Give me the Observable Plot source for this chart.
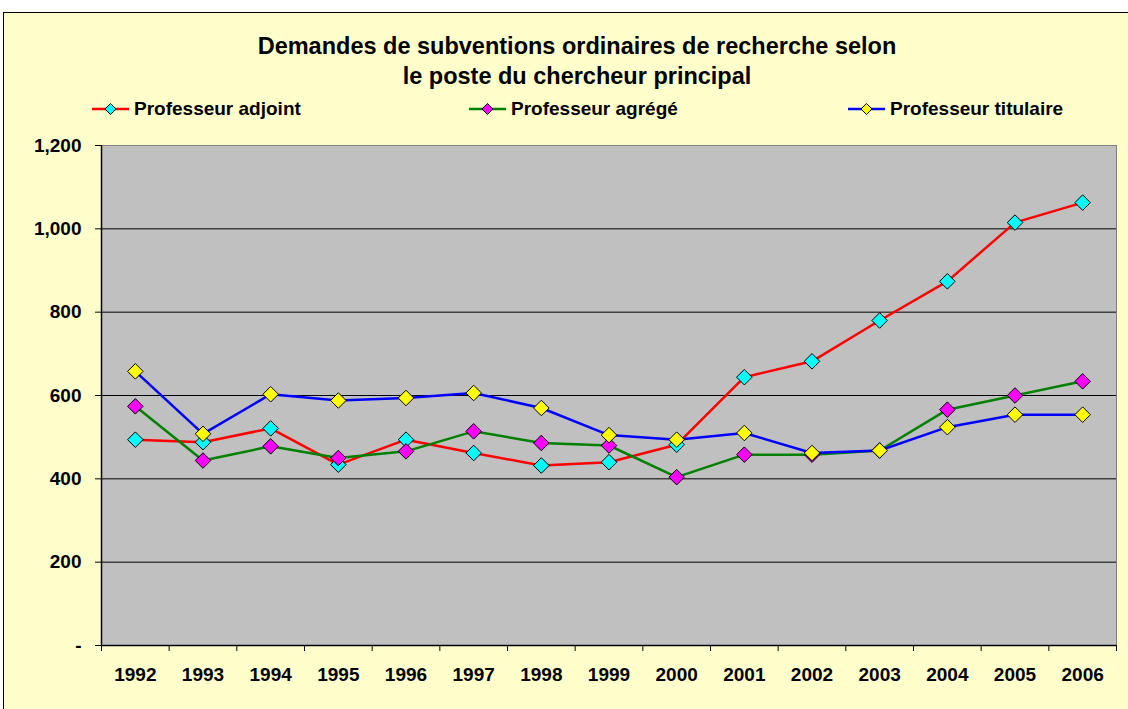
<!DOCTYPE html>
<html>
<head>
<meta charset="utf-8">
<script src="https://cdn.jsdelivr.net/npm/d3@7"></script>
<script src="https://cdn.jsdelivr.net/npm/@observablehq/plot@0.6"></script>
<style>
  html, body { margin: 0; padding: 0; background: #ffffff; }
  body { width: 1128px; height: 709px; position: relative; overflow: hidden; font-family: "Liberation Sans", Arial, sans-serif; }
  #box { position: absolute; left: 3px; top: 12px; width: 1140px; height: 710px; background: #FFFFCC; border: 1px solid #000; box-sizing: border-box; }
  #title { position: absolute; left: 0; top: 31px; width: 1140px; text-align: center; font-weight: bold; font-size: 23.5px; line-height: 30px; color: #000; }
  #title div { position: relative; left: 7px; }
  .leg { position: absolute; top: 98px; height: 22px; display: flex; align-items: center; font-weight: bold; font-size: 19px; color: #000; }
  .leg svg { margin-right: 5px; }
  #chart { position: absolute; left: 0; top: 130px; }
</style>
</head>
<body>
<div id="box"></div>
<div id="title"><div>Demandes de subventions ordinaires de recherche selon</div><div>le poste du chercheur principal</div></div>
<div id="legend"></div>
<div id="chart"></div>
<script>
const years = [1992,1993,1994,1995,1996,1997,1998,1999,2000,2001,2002,2003,2004,2005,2006];
const seriesNames = ["Professeur adjoint", "Professeur agrégé", "Professeur titulaire"];
const adjoint   = [494, 488, 521, 434, 494, 462, 432, 440, 482, 644, 682, 780, 874, 1015, 1063];
const agrege    = [574, 444, 478, 450, 466, 514, 486, 480, 404, 458, 458, 468, 566, 600, 634];
const titulaire = [658, 508, 603, 588, 594, 606, 570, 505, 494, 510, 462, 468, 524, 554, 554];
const lineColors = ["#FF0000", "#008000", "#0000FF"];
const markerColors = ["#00FFFF", "#FF00FF", "#FFFF00"];
const yTicks = [0, 200, 400, 600, 800, 1000, 1200];
const legendX = [92, 469, 848];

const allValues = [adjoint, agrege, titulaire];
const data = [];
seriesNames.forEach((s, i) => years.forEach((y, j) => data.push({series: s, year: y, value: allValues[i][j], idx: i})));

// legend
const legend = document.getElementById("legend");
seriesNames.forEach((s, i) => {
  const d = document.createElement("div");
  d.className = "leg";
  d.style.left = legendX[i] + "px";
  d.innerHTML = `<svg width="37" height="14"><line x1="0" y1="7" x2="37" y2="7" stroke="${lineColors[i]}" stroke-width="2.5"/><path d="M18.5,1.5 L24,7 L18.5,12.5 L13,7 Z" fill="${markerColors[i]}" stroke="#000" stroke-width="1"/></svg><span>${s}</span>`;
  legend.appendChild(d);
});

const yearBounds = years.map(y => y - 0.5).concat([years[years.length - 1] + 0.5]);

const chart = Plot.plot({
  width: 1128,
  height: 579,
  marginLeft: 101,
  marginRight: 12,
  marginTop: 15,
  marginBottom: 64,
  style: { background: "transparent", fontFamily: "'Liberation Sans', Arial, sans-serif", fontWeight: "bold", color: "#000", overflow: "visible" },
  x: { domain: [years[0] - 0.5, years[years.length - 1] + 0.5] },
  y: { domain: [0, 1200] },
  color: { domain: seriesNames, range: lineColors },
  marks: [
    Plot.frame({ fill: "#C0C0C0", stroke: "#808080" }),
    Plot.gridY(yTicks.filter(t => t > 0 && t < 1200), { stroke: "#000", strokeOpacity: 1, strokeWidth: 1 }),
    Plot.axisY({ ticks: yTicks, tickSize: 6, tickPadding: 14, fontSize: 19, label: null, stroke: "#000",
      tickFormat: d => d === 0 ? "-" : d3.format(",")(d) }),
    Plot.axisX({ ticks: yearBounds, tickSize: 6, tickFormat: () => "", label: null, stroke: "#000" }),
    Plot.axisX({ ticks: years, tickSize: 0, tickPadding: 22, fontSize: 19, label: null, tickFormat: d => String(d) }),
    Plot.ruleY([0], { stroke: "#000", strokeWidth: 1.5 }),
    Plot.ruleX([years[0] - 0.5], { stroke: "#000", strokeWidth: 1.5 }),
    Plot.line(data, { x: "year", y: "value", z: "series", stroke: "series", strokeWidth: 2.5 }),
    Plot.dot(data, { x: "year", y: "value", symbol: "diamond2", r: 7,
      fill: d => markerColors[d.idx], stroke: "#000", strokeWidth: 1 })
  ]
});
document.getElementById("chart").appendChild(chart);
</script>
</body>
</html>
